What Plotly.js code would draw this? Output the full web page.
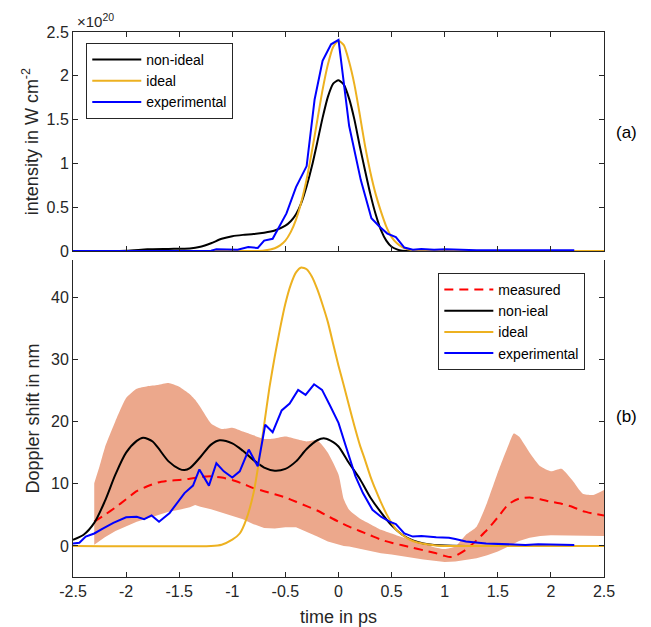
<!DOCTYPE html>
<html>
<head>
<meta charset="utf-8">
<script src="https://cdn.plot.ly/plotly-3.0.1.min.js"></script>
<style>
html,body{margin:0;padding:0;background:#fff;}
#chart{width:651px;height:627px;}
</style>
</head>
<body>
<div id="chart"></div>
<script>
// ---------- Panel (a): intensity (units of 1e20 W cm^-2) ----------
const tIdealA = [-2.5,-1.0,-0.8,-0.7,-0.6,-0.55,-0.5,-0.45,-0.4,-0.35,-0.3,-0.25,-0.2,-0.15,-0.1,-0.05,0,0.05,0.1,0.15,0.2,0.25,0.3,0.35,0.4,0.45,0.5,0.55,0.6,0.65,0.7,0.8,1.0,2.5];
const iIdealA = [0,0,0.001,0.007,0.033,0.066,0.12,0.216,0.36,0.56,0.82,1.14,1.49,1.84,2.13,2.33,2.4,2.35,2.16,1.9,1.56,1.2,0.9,0.65,0.45,0.28,0.16,0.09,0.045,0.02,0.01,0.002,0,0];

const tNonIdealA = [-2.5,-2.0,-1.8,-1.6,-1.4,-1.3,-1.2,-1.1,-1.0,-0.9,-0.8,-0.7,-0.6,-0.5,-0.45,-0.4,-0.35,-0.3,-0.25,-0.2,-0.15,-0.1,-0.05,0,0.05,0.1,0.15,0.2,0.25,0.3,0.35,0.4,0.45,0.5,0.55,0.6,0.7,2.5];
const iNonIdealA = [0,0.005,0.02,0.025,0.03,0.05,0.09,0.14,0.17,0.185,0.195,0.21,0.235,0.29,0.34,0.42,0.55,0.74,0.97,1.24,1.52,1.76,1.91,1.95,1.9,1.74,1.5,1.2,0.92,0.65,0.42,0.24,0.12,0.05,0.02,0.005,0,0];

const tExpA = [-2.5,-1.5,-1.2,-1.15,-1.05,-0.95,-0.85,-0.76,-0.70,-0.62,-0.49,-0.40,-0.30,-0.225,-0.15,-0.07,0.0,0.10,0.21,0.31,0.385,0.46,0.54,0.62,0.70,0.78,0.9,1.01,1.3,2.22];
const iExpA = [0,0,0.005,0.02,0.02,0.015,0.046,0.035,0.12,0.14,0.43,0.73,0.97,1.73,2.17,2.36,2.41,1.43,0.81,0.375,0.28,0.2,0.16,0.04,0.015,0.025,0.015,0.02,0.01,0.01];

// ---------- Panel (b): Doppler shift (nm) ----------
const tBand = [-2.3,-2.25,-2.2,-2.1,-2.0,-1.9,-1.8,-1.7,-1.6,-1.5,-1.4,-1.35,-1.3,-1.2,-1.1,-1.0,-0.9,-0.8,-0.7,-0.6,-0.5,-0.4,-0.3,-0.2,-0.1,0,0.05,0.1,0.2,0.3,0.4,0.5,0.6,0.7,0.8,0.9,1.0,1.1,1.2,1.3,1.4,1.5,1.6,1.65,1.7,1.8,1.9,2.0,2.1,2.2,2.3,2.4,2.5];
const bandUpper = [10.1,12.8,15.8,20.1,23.8,25.3,25.7,25.9,26.2,25.6,24.4,23.5,22.3,19.7,18.8,19.0,18.4,17.8,17.2,17.3,17.6,17.2,16.8,17.0,15.0,11.5,7.5,5.8,4.4,3.5,2.6,2.0,1.4,0.9,0.3,-0.2,-0.5,-0.1,1.8,3.1,7.0,11.8,16.2,18.1,17.6,15.0,12.8,12.0,12.4,10.6,8.4,8.2,9.0];
const bandLower = [0.2,0.8,1.4,2.4,3.2,3.9,4.4,5.0,5.5,5.8,6.2,6.6,6.3,5.9,5.4,4.9,4.3,3.5,2.9,2.8,3.0,3.0,2.3,1.5,0.7,0.2,0.0,-0.1,-0.5,-0.8,-1.2,-1.4,-1.7,-1.9,-2.2,-2.4,-2.6,-2.5,-2.3,-2.0,-1.5,-0.9,-0.1,0.3,0.8,1.3,1.6,1.7,1.7,1.7,1.7,1.6,1.6];

const tMeas = [-2.3,-2.2,-2.1,-2.0,-1.9,-1.8,-1.7,-1.6,-1.5,-1.4,-1.3,-1.2,-1.1,-1.0,-0.9,-0.8,-0.7,-0.6,-0.5,-0.4,-0.3,-0.2,-0.1,0,0.1,0.2,0.3,0.4,0.5,0.6,0.7,0.8,0.9,1.0,1.05,1.1,1.2,1.3,1.4,1.5,1.6,1.7,1.8,1.9,2.0,2.1,2.2,2.3,2.4,2.5];
const dMeas = [3.9,5.0,6.2,7.5,8.8,9.6,10.2,10.5,10.6,10.8,11.1,11.2,11.0,10.6,10.0,9.3,8.8,8.3,7.8,7.1,6.4,5.7,4.8,3.9,3.1,2.4,1.7,1.0,0.5,0.1,-0.3,-0.7,-1.1,-1.6,-1.8,-1.6,-0.6,0.9,2.6,4.6,6.7,7.6,7.8,7.5,7.1,6.8,6.3,5.6,5.2,4.9];

const tNonIdealB = [-2.5,-2.4,-2.3,-2.2,-2.1,-2.0,-1.9,-1.84,-1.75,-1.7,-1.6,-1.5,-1.45,-1.4,-1.3,-1.2,-1.12,-1.0,-0.9,-0.8,-0.7,-0.6,-0.5,-0.4,-0.3,-0.2,-0.13,-0.05,0.0,0.1,0.2,0.3,0.4,0.5,0.6,0.7,0.8,0.9,1.0,1.2,2.5];
const dNonIdealB = [1.0,1.8,3.7,7.2,11.5,15.0,16.9,17.4,16.8,15.8,13.6,12.4,12.2,12.5,14.3,16.3,17.0,16.5,15.3,13.8,12.6,12.1,12.4,13.6,15.6,17.0,17.3,16.7,16.0,13.3,10.8,7.8,5.4,3.3,1.8,0.9,0.4,0.15,0.05,0,0];

const tIdealB = [-2.5,-1.2,-1.1,-1.0,-0.93,-0.87,-0.8,-0.75,-0.7,-0.65,-0.6,-0.55,-0.5,-0.45,-0.4,-0.35,-0.3,-0.25,-0.2,-0.15,-0.1,-0.05,0,0.05,0.1,0.15,0.2,0.25,0.3,0.35,0.4,0.45,0.5,0.55,0.6,0.65,0.7,0.8,0.9,1.0,2.5];
const dIdealB = [0,0,0.2,1.0,2.0,4.2,8.5,13.5,19.5,25.5,30.5,35,39,42,44,44.8,44.5,43.3,41.3,38.8,36,32.5,29,25.8,22.5,19.3,16.3,13.8,11.2,9.0,7.0,5.2,3.7,2.5,1.8,1.2,0.8,0.35,0.1,0,0];

const tExpB = [-2.5,-2.44,-2.38,-2.3,-2.22,-2.12,-2.0,-1.9,-1.83,-1.76,-1.69,-1.59,-1.45,-1.37,-1.31,-1.22,-1.15,-1.08,-1.0,-0.93,-0.845,-0.76,-0.69,-0.62,-0.535,-0.46,-0.38,-0.31,-0.23,-0.155,-0.08,0.0,0.07,0.16,0.23,0.32,0.40,0.48,0.54,0.62,0.70,0.78,0.92,1.04,1.1,1.2,1.39,1.57,1.76,1.88,2.0,2.22];
const dExpB = [0.4,0.5,1.5,2.0,2.8,3.7,4.6,4.7,4.3,4.9,3.9,5.3,8.5,9.7,12.3,9.7,13.3,12.0,11.0,12.0,15.5,12.8,19.5,18.3,21.8,22.9,25.1,24.3,26.0,25.1,22.6,19.8,16.0,11.2,8.5,5.8,4.7,3.9,3.5,2.0,1.5,1.6,1.4,1.3,1.1,0.7,0.4,0.3,0.15,0.25,0.2,0.15];

// tick labels
const xTickVals = [-2.5,-2,-1.5,-1,-0.5,0,0.5,1,1.5,2,2.5];
const xTickText = ['-2.5','-2','-1.5','-1','-0.5','0','0.5','1','1.5','2','2.5'];
const yTickValsA = [0,0.5,1,1.5,2,2.5];
const yTickTextA = ['0','0.5','1','1.5','2','2.5'];
const yTickValsB = [0,10,20,30,40];
const yTickTextB = ['0','10','20','30','40'];

const C_BLACK = '#000000', C_ORANGE = '#EDB120', C_BLUE = '#0000FF', C_RED = '#FF0000';
const C_BAND = 'rgb(236,168,140)';
const AX = '#262626';
const FONT = 'Liberation Sans, Arial, Helvetica, sans-serif';
const LW = 2;
const TICK_FS = 16, TITLE_FS = 18, LEG_FS = 14;

const traces = [
  // panel (a)
  {x: tNonIdealA, y: iNonIdealA, xaxis:'x', yaxis:'y', mode:'lines', name:'non-ideal',
   line:{color:C_BLACK, width:LW, shape:'spline', smoothing:0.6}, legend:'legend2'},
  {x: tIdealA, y: iIdealA, xaxis:'x', yaxis:'y', mode:'lines', name:'ideal',
   line:{color:C_ORANGE, width:LW, shape:'spline', smoothing:0.6}, legend:'legend2'},
  {x: tExpA, y: iExpA, xaxis:'x', yaxis:'y', mode:'lines', name:'experimental',
   line:{color:C_BLUE, width:LW}, legend:'legend2'},
  // panel (b) band
  {x: tBand, y: bandLower, xaxis:'x2', yaxis:'y2', mode:'lines', line:{width:0, color:C_BAND},
   showlegend:false, legend:'legend'},
  {x: tBand, y: bandUpper, xaxis:'x2', yaxis:'y2', mode:'lines', line:{width:0, color:C_BAND, shape:'spline', smoothing:0.5},
   fill:'tonexty', fillcolor:C_BAND, showlegend:false, legend:'legend'},
  {x: tMeas, y: dMeas, xaxis:'x2', yaxis:'y2', mode:'lines', name:'measured',
   line:{color:C_RED, width:LW, dash:'9px,6px', shape:'spline', smoothing:0.6}, legend:'legend'},
  {x: tNonIdealB, y: dNonIdealB, xaxis:'x2', yaxis:'y2', mode:'lines', name:'non-ieal',
   line:{color:C_BLACK, width:LW, shape:'spline', smoothing:0.8}, legend:'legend'},
  {x: tIdealB, y: dIdealB, xaxis:'x2', yaxis:'y2', mode:'lines', name:'ideal',
   line:{color:C_ORANGE, width:LW, shape:'spline', smoothing:0.6}, legend:'legend'},
  {x: tExpB, y: dExpB, xaxis:'x2', yaxis:'y2', mode:'lines', name:'experimental',
   line:{color:C_BLUE, width:LW}, legend:'legend'}
];

const axCommon = {
  showgrid:false, zeroline:false, showline:true, linecolor:AX, linewidth:1,
  ticks:'inside', ticklen:5, tickwidth:1, tickcolor:AX,
  tickfont:{family:FONT, size:TICK_FS, color:AX}, fixedrange:true
};

const legCommon = {xanchor:'left', yanchor:'top', bgcolor:'#fff', bordercolor:AX, borderwidth:1,
  font:{family:FONT, size:LEG_FS, color:'#000'}, traceorder:'normal', tracegroupgap:0, itemwidth:49};

const layout = {
  width:651, height:627,
  margin:{l:73, r:47, t:32, b:50, pad:0},
  paper_bgcolor:'#fff', plot_bgcolor:'#fff',
  font:{family:FONT, size:TICK_FS, color:AX},
  hovermode:false,
  xaxis: Object.assign({}, axCommon, {domain:[0,1], range:[-2.5,2.5], tickvals:xTickVals, ticktext:xTickText,
    showticklabels:false, mirror:'ticks', anchor:'y'}),
  yaxis: Object.assign({}, axCommon, {domain:[0.598,1], range:[0,2.5], tickvals:yTickValsA, ticktext:yTickTextA,
    mirror:'ticks', anchor:'x',
    title:{text:'intensity in W cm<sup>-2</sup>', font:{family:FONT, size:TITLE_FS, color:AX}, standoff:3}}),
  xaxis2: Object.assign({}, axCommon, {domain:[0,1], range:[-2.5,2.5], tickvals:xTickVals, ticktext:xTickText,
    mirror:false, anchor:'y2',
    title:{text:'time in ps', font:{family:FONT, size:TITLE_FS, color:AX}, standoff:14}}),
  yaxis2: Object.assign({}, axCommon, {domain:[0,0.5817], range:[-5,46], tickvals:yTickValsB, ticktext:yTickTextB,
    mirror:'ticks', anchor:'x2',
    title:{text:'Doppler shift in nm', font:{family:FONT, size:TITLE_FS, color:AX}, standoff:6}}),
  legend2: Object.assign({}, legCommon, {x:0.025, y:0.98}),
  legend: Object.assign({}, legCommon, {x:0.688, y:0.558}),
  annotations: [
    {text:'×10<sup>20</sup>', xref:'paper', yref:'paper', x:0.003, y:1.022, xanchor:'left', yanchor:'middle',
     showarrow:false, font:{family:FONT, size:15, color:AX}},
    {text:'(a)', xref:'paper', yref:'paper', x:1.043, y:0.815, xanchor:'center', yanchor:'middle',
     showarrow:false, font:{family:FONT, size:17, color:'#000'}},
    {text:'(b)', xref:'paper', yref:'paper', x:1.043, y:0.295, xanchor:'center', yanchor:'middle',
     showarrow:false, font:{family:FONT, size:17, color:'#000'}}
  ]
};

Plotly.newPlot('chart', traces, layout, {displayModeBar:false, staticPlot:true});
</script>
</body>
</html>
